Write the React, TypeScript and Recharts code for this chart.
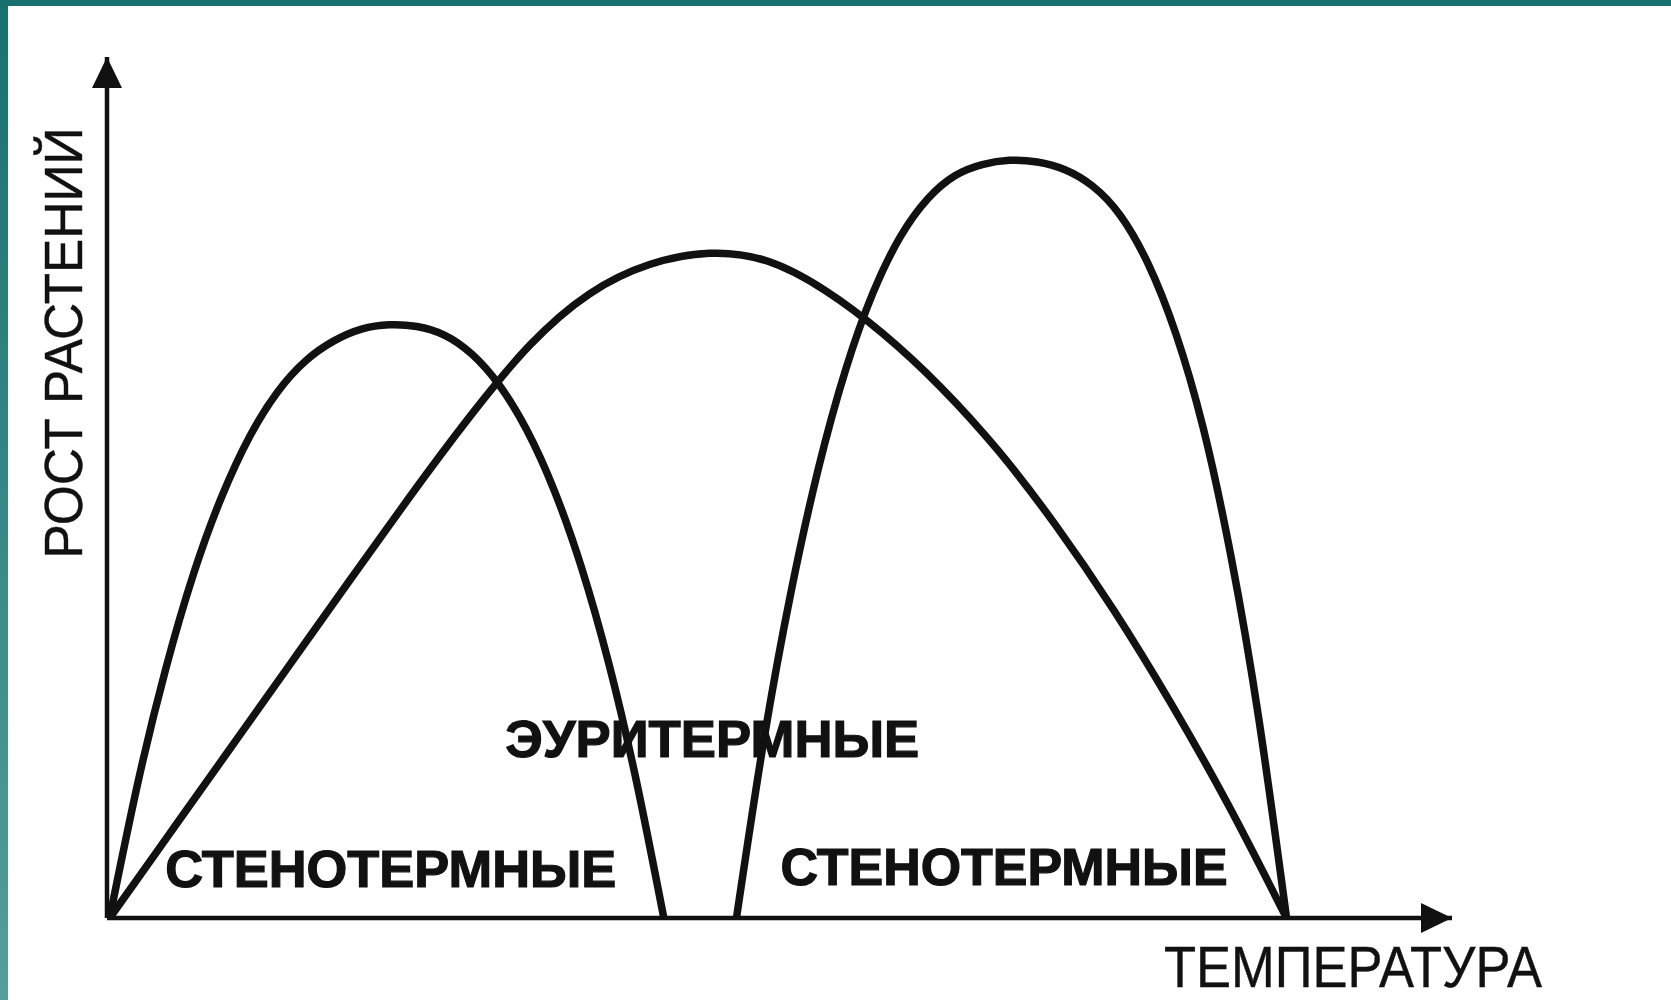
import React from 'react';
import { LineChart, Line, XAxis, YAxis, ReferenceDot } from 'recharts';

// температура (усл. ед.) и рост растений (усл. ед.)
const coldStenoTemp = [0.2, 2.28, 4.36, 6.44, 8.52, 10.6, 12.68, 14.76, 16.84, 18.92, 21.0,
    23.04, 25.08, 27.12, 29.16, 31.2, 33.24, 35.28, 37.32, 39.36, 41.4];
const coldStenoGrowth = [0, 15.6, 28.9, 40.0, 48.9, 55.9, 61.1, 64.7, 67.0, 68.4, 68.9,
    68.7, 67.7, 65.5, 61.9, 56.7, 49.7, 40.7, 29.5, 15.9, 0];

const euryTemp = [0.2, 4.66, 9.12, 13.58, 18.04, 22.5, 26.96, 31.42, 35.88, 40.34, 44.8,
    49.09, 53.38, 57.67, 61.96, 66.25, 70.54, 74.83, 79.12, 83.41, 87.7];
const euryGrowth = [0, 9.8, 19.6, 29.4, 39.2, 48.9, 58.2, 66.5, 72.5, 75.9, 77.2,
    76.3, 72.9, 67.9, 61.7, 54.3, 45.6, 35.8, 24.9, 13.0, 0];

const warmStenoTemp = [46.8, 48.83, 50.86, 52.89, 54.92, 56.95, 58.98, 61.01, 63.04, 65.07, 67.1,
    69.16, 71.22, 73.28, 75.34, 77.4, 79.46, 81.52, 83.58, 85.64, 87.7];
const warmStenoGrowth = [0, 20.6, 37.9, 52.2, 63.7, 72.6, 79.1, 83.5, 86.2, 87.5, 88.0,
    87.8, 86.9, 85.0, 81.6, 76.0, 67.9, 56.8, 41.9, 23.1, 0];

const curveNames = ['СТЕНОТЕРМНЫЕ', 'ЭУРИТЕРМНЫЕ', 'СТЕНОТЕРМНЫЕ'];
const labelTemp = [21.1, 45.0, 66.7];
const labelGrowth = [3.6, 18.7, 3.8];

const xTitle = 'ТЕМПЕРАТУРА';
const yTitle = 'РОСТ РАСТЕНИЙ';

const toPoints = (t: number[], g: number[]) => t.map((x, i) => ({ t: x, growth: g[i] }));

const coldSteno = toPoints(coldStenoTemp, coldStenoGrowth);
const eury = toPoints(euryTemp, euryGrowth);
const warmSteno = toPoints(warmStenoTemp, warmStenoGrowth);

const FONT = '"Liberation Sans", Arial, Helvetica, sans-serif';
const INK = '#111';
const labelWidths = [451, 414, 447];

const XTitle = (props: any) => {
    const vb = props.viewBox || {};
    return (
        <text x={vb.x + vb.width + 90} y={vb.y + 69} textAnchor="end" fontFamily={FONT} fontSize={58}
            fill={INK} stroke={INK} strokeWidth={0.4} textLength={378} lengthAdjust="spacingAndGlyphs">
            {xTitle}
        </text>
    );
};

const YTitle = (props: any) => {
    const vb = props.viewBox || {};
    const cx = vb.x + 82;
    const cy = vb.y + 286;
    return (
        <text x={cx} y={cy} transform={`rotate(-90 ${cx} ${cy})`} textAnchor="middle" fontFamily={FONT}
            fontSize={54} fill={INK} stroke={INK} strokeWidth={0.4} textLength={431} lengthAdjust="spacingAndGlyphs">
            {yTitle}
        </text>
    );
};

const App = () => {
    return (
        <div style={{ position: 'absolute', left: 0, top: 0, width: 1671, height: 1000, background: '#fff', overflow: 'hidden' }}>
            <LineChart width={1671} height={1000} margin={{ top: 57, right: 219, bottom: 0, left: 0 }}>
                <XAxis type="number" dataKey="t" domain={[0, 100]} ticks={[]} tick={false} tickLine={false}
                    height={82} axisLine={{ stroke: INK, strokeWidth: 4.5 }} label={{ content: XTitle }} />
                <YAxis type="number" dataKey="growth" domain={[0, 100]} ticks={[]} tick={false} tickLine={false}
                    width={107} axisLine={{ stroke: INK, strokeWidth: 4.5 }} label={{ content: YTitle }} />

                {curveNames.map((name, i) => (
                    <ReferenceDot key={`lbl-${i}`} x={labelTemp[i]} y={labelGrowth[i]} ifOverflow="visible"
                        shape={(p: any) => (
                            <text x={p.cx} y={p.cy} textAnchor="middle" fontFamily={FONT} fontWeight="bold"
                                fontSize={52} fill={INK} stroke={INK} strokeWidth={1.2}
                                textLength={labelWidths[i]} lengthAdjust="spacingAndGlyphs">
                                {name}
                            </text>
                        )} />
                ))}

                <Line data={coldSteno} dataKey="growth" type="natural" stroke={INK} strokeWidth={7.5}
                    dot={false} activeDot={false} isAnimationActive={false} />
                <Line data={eury} dataKey="growth" type="natural" stroke={INK} strokeWidth={7.5}
                    dot={false} activeDot={false} isAnimationActive={false} />
                <Line data={warmSteno} dataKey="growth" type="natural" stroke={INK} strokeWidth={7.5}
                    dot={false} activeDot={false} isAnimationActive={false} />

                {/* стрелки осей */}
                <ReferenceDot x={0} y={100} ifOverflow="visible"
                    shape={(p: any) => (
                        <polygon points={`${p.cx},${p.cy} ${p.cx - 15},${p.cy + 31} ${p.cx + 15},${p.cy + 31}`} fill={INK} />
                    )} />
                <ReferenceDot x={100} y={0} ifOverflow="visible"
                    shape={(p: any) => (
                        <polygon points={`${p.cx},${p.cy} ${p.cx - 31},${p.cy - 15} ${p.cx - 31},${p.cy + 15}`} fill={INK} />
                    )} />
            </LineChart>

            <div style={{ position: 'absolute', left: 0, top: 0, width: 1671, height: 6, background: '#17716f' }} />
            <div style={{ position: 'absolute', left: 0, top: 0, width: 8, height: 1000, background: 'linear-gradient(#17716f, #559e9b)' }} />
        </div>
    );
};

export default App;
